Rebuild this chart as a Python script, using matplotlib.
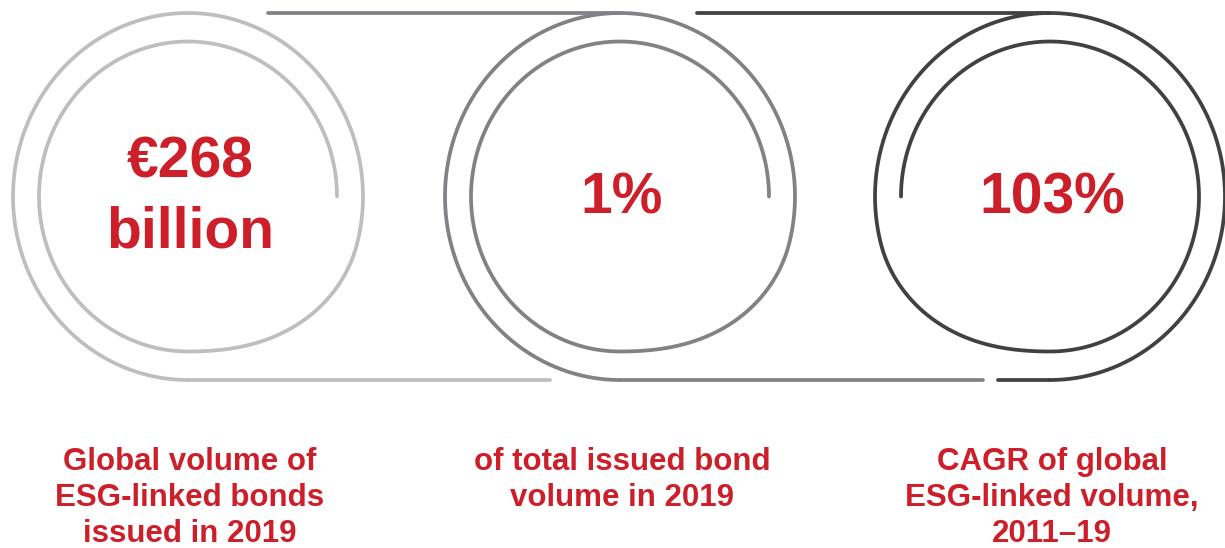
import matplotlib.pyplot as plt
import numpy as np

plt.rcParams['font.family'] = ['Liberation Sans', 'DejaVu Sans']

# 数据
values = [['€268', 'billion'], ['1%'], ['103%']]
captions = [
    ['Global volume of', 'ESG-linked bonds', 'issued in 2019'],
    ['of total issued bond', 'volume in 2019'],
    ['CAGR of global', 'ESG-linked volume,', '2011–19'],
]
ring_colors = ['#BCBEC0', '#808285', '#414042']
red = '#CC1F2A'

# 画布: 像素坐标
fig = plt.figure(figsize=(12.25, 5.48), dpi=100)
ax = fig.add_axes([0, 0, 1, 1])
ax.set_xlim(0, 1225)
ax.set_ylim(548, 0)
ax.axis('off')

centers = [188, 620, 1050]
cy = 196.5
rx_out, ry_out = 175, 183.5
rx_in, ry_in = 149, 155
lw = 2.7


def spiral(cx, mirror=False):
    # 内圈起点 -> 转一圈 -> 渐变到外圈 -> 外圈到底部
    deg = np.linspace(0, 630, 1500)
    t = np.radians(deg)
    u = np.clip((deg - 270) / 75, 0, 1)
    s = 3 * u ** 2 - 2 * u ** 3
    rx = rx_in + (rx_out - rx_in) * s
    ry = ry_in + (ry_out - ry_in) * s
    sign = -1 if mirror else 1
    x = cx + sign * rx * np.cos(t)
    y = cy - ry * np.sin(t)
    return x, y


# 圆环
for i, cx in enumerate(centers):
    x, y = spiral(cx, mirror=(i == 2))
    ax.plot(x, y, color=ring_colors[i], lw=lw, solid_capstyle='round')

# 上方连接线
ax.plot([268, centers[1]], [cy - ry_out] * 2, color=ring_colors[1], lw=lw, solid_capstyle='round')
ax.plot([697, centers[2]], [cy - ry_out] * 2, color=ring_colors[2], lw=lw, solid_capstyle='round')

# 下方连接线
ax.plot([centers[0], 550], [cy + ry_out] * 2, color=ring_colors[0], lw=lw, solid_capstyle='round')
ax.plot([centers[1], 983], [cy + ry_out] * 2, color=ring_colors[1], lw=lw, solid_capstyle='round')
ax.plot([998, centers[2]], [cy + ry_out] * 2, color=ring_colors[2], lw=lw, solid_capstyle='round')

# 中间数字
for i, cx in enumerate(centers):
    lines = values[i]
    if len(lines) == 2:
        baselines = [177, 248]
    else:
        baselines = [213]
    for txt, yb in zip(lines, baselines):
        ax.text(cx + 2, yb, txt, ha='center', va='baseline', fontsize=41,
                fontweight='bold', color=red)

# 底部说明
cap_base = [470, 506, 542]
for i, cx in enumerate(centers):
    for txt, yb in zip(captions[i], cap_base):
        ax.text(cx + 2, yb, txt, ha='center', va='baseline', fontsize=22.5,
                fontweight='bold', color=red)

fig.savefig('out.png', dpi=100)
